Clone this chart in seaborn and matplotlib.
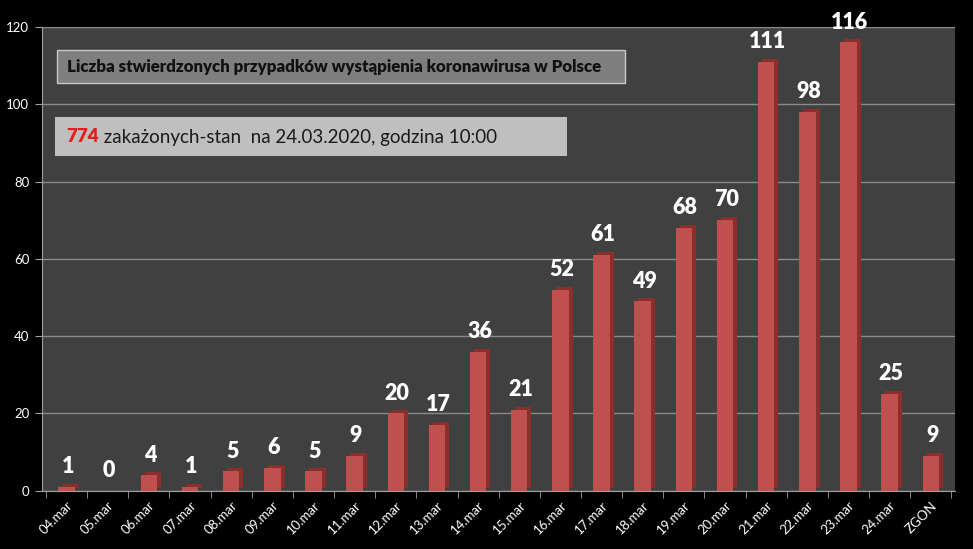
import matplotlib
matplotlib.use("Agg")
import matplotlib.pyplot as plt
import matplotlib.transforms as mtransforms
from matplotlib.patches import Rectangle
from matplotlib.text import Annotation
import seaborn as sns
import numpy as np

categories = ['04.mar', '05.mar', '06.mar', '07.mar', '08.mar', '09.mar', '10.mar',
              '11.mar', '12.mar', '13.mar', '14.mar', '15.mar', '16.mar', '17.mar',
              '18.mar', '19.mar', '20.mar', '21.mar', '22.mar', '23.mar', '24.mar', 'ZGON']
values = [1, 0, 4, 1, 5, 6, 5, 9, 20, 17, 36, 21, 52, 61, 49, 68, 70, 111, 98, 116, 25, 9]
y_ticks = [0, 20, 40, 60, 80, 100, 120]
title_text = "Liczba stwierdzonych przypadków wystąpienia koronawirusa w Polsce"
total_text = "774"
status_text = " zakażonych-stan  na 24.03.2020, godzina 10:00"

sns.set_style("dark")
plt.rcParams['font.family'] = ['Lato', 'DejaVu Sans']

fig = plt.figure(figsize=(9.73, 5.49), dpi=100, facecolor='black')
ax = fig.add_axes([0.043, 0.106, 0.939, 0.845])
ax.set_facecolor('#404040')

# shadow / side of bars (3D look)
sns.barplot(x=categories, y=values, color='#8c2f2c', width=0.4, saturation=1,
            edgecolor='none', linewidth=0, ax=ax, zorder=2)
n_shadow = len(ax.patches)
off = mtransforms.offset_copy(ax.transData, fig=fig, x=4, y=3, units='dots')
for p in ax.patches[:n_shadow]:
    p.set_transform(off)
sns.barplot(x=categories, y=values, color='#c0504d', width=0.4, saturation=1,
            edgecolor='none', linewidth=0, ax=ax, zorder=3)

ax.set_ylim(0, 120)
ax.set_xlim(-0.6, len(categories) - 0.4)
ax.set_yticks(y_ticks)
ax.yaxis.grid(True, color='#8a8a8a', linewidth=1)
ax.xaxis.grid(False)
ax.set_axisbelow(True)

ax.tick_params(axis='y', colors='white', labelsize=9.5, length=5, color='#a0a0a0',
               left=True, pad=4)
ax.tick_params(axis='x', which='major', length=0, labelsize=9.5, labelcolor='white',
               pad=6)
ax.set_xticks(np.arange(len(categories) + 1) - 0.5, minor=True)
ax.tick_params(axis='x', which='minor', length=5, color='#a0a0a0', bottom=True)
for lbl in ax.get_yticklabels():
    lbl.set_color('white')
for lbl in ax.get_xticklabels():
    lbl.set_rotation(45)
    lbl.set_ha('right')
    lbl.set_rotation_mode('anchor')
ax.set_xlabel('')
ax.set_ylabel('')
for s in ['top', 'right']:
    ax.spines[s].set_visible(False)
ax.spines['left'].set_color('#a0a0a0')
ax.spines['bottom'].set_color('#a0a0a0')

for i, v in enumerate(values):
    ax.annotate(str(v), xy=(i, v), xytext=(1, 7), textcoords='offset points',
                ha='center', va='bottom', color='white', fontsize=15.5,
                fontweight='heavy', zorder=5)

# title box
fig.patches.append(Rectangle((57 / 973, 1 - 83 / 549), (625 - 57) / 973, 33 / 549,
                             transform=fig.transFigure, facecolor='#7f7f7f',
                             edgecolor='#c8c8c8', linewidth=1, zorder=10))
fig.text(67 / 973, 1 - 67 / 549, title_text, color='#111111', fontsize=12.2,
         fontweight='heavy', va='center', ha='left', zorder=11)

# status box
fig.patches.append(Rectangle((55 / 973, 1 - 156 / 549), (567 - 55) / 973, 39 / 549,
                             transform=fig.transFigure, facecolor='#bfbfbf',
                             edgecolor='none', zorder=10))
t1 = fig.text(66 / 973, 1 - 137 / 549, total_text, color='#e31e1e', fontsize=13.5,
              fontweight='heavy', va='center', ha='left', zorder=11)
ann = Annotation(status_text, xy=(1, 0.5), xycoords=t1, va='center', ha='left',
                 color='#1a1a1a', fontsize=13.5, annotation_clip=False)
ann.set_zorder(11)
fig.add_artist(ann)

fig.savefig('out.png', dpi=100, facecolor='black')
